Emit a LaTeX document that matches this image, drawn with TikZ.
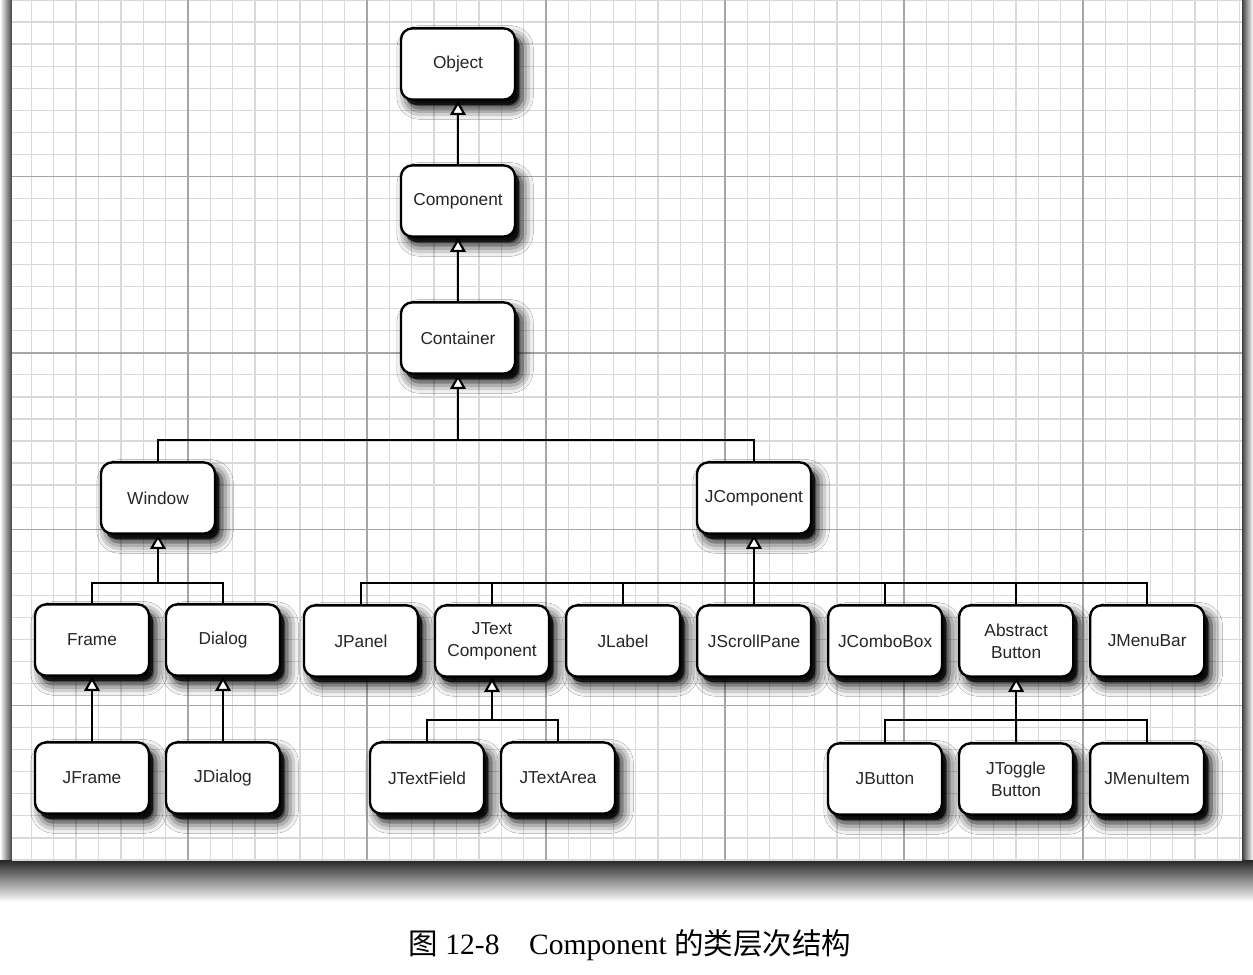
\documentclass[tikz,border=0pt]{standalone}
\usepackage{fontspec}
\setmainfont{Liberation Serif}
\setsansfont{Liberation Sans}
\newfontfamily\cjk{Noto Sans CJK SC}
\usetikzlibrary{arrows.meta,shadows,shadows.blur}

\tikzset{
  cls/.style={draw, line width=1.7pt, rounded corners=8pt, fill=white,
    minimum width=2.85cm, minimum height=1.78cm, inner sep=0pt,
    align=center, text=black!85,
    font=\sffamily\fontsize{12.3}{15.6}\selectfont,
    blur shadow={shadow xshift=5pt, shadow yshift=-6pt,
      shadow blur radius=8pt, shadow opacity=100},
    drop shadow={shadow xshift=3pt, shadow yshift=-4pt,
      fill=black, opacity=0.75}},
  link/.style={line width=1.5pt},
  inh/.style={link, -{Triangle[length=10pt, width=11pt, fill=white]}},
  minor/.style={gray!30, line width=0.9pt},
  major/.style={gray!70, line width=1pt},
}

\begin{document}
\begin{tikzpicture}[x=0.025cm, y=-0.025cm, node distance=3.275cm]
  \useasboundingbox (0,0) rectangle (1253,974);

  % Hoja cuadriculada
  \shade[left color=white, right color=black!75] (0,0) rectangle (12,860);
  \shade[left color=black!75, right color=white] (1242,0) rectangle (1253,870);
  \shade[top color=black!85, bottom color=white] (0,860) rectangle (1253,902);
  \fill[white] (12,0) rectangle (1242,860);
  \begin{scope}
    \clip (12,0) rectangle (1242,860);
    \foreach \i in {0,...,55}
      \draw[minor] ({9+22.375*\i},0) -- ({9+22.375*\i},860);
    \foreach \j in {0,...,39}
      \draw[minor] (12,{22.05*\j}) -- (1242,{22.05*\j});
    \foreach \i in {0,...,6}
      \draw[major] ({9+179*\i},0) -- ({9+179*\i},860);
    \foreach \j in {1,...,4}
      \draw[major] (12,{176.4*\j}) -- (1242,{176.4*\j});
  \end{scope}

  % Nodos
  \node[cls] (object) at (458,64) {Object};
  \node[cls] (component) at (458,201) {Component};
  \node[cls] (container) at (458,338) {Container};

  \node[cls] (window) at (158,498) {Window};
  \node[cls] (jcomponent) at (754,498) {JComponent};

  \node[cls] (frame) at (92,640) {Frame};
  \node[cls] (dialog) [right of=frame] {Dialog};
  \node[cls] (jpanel) at (361,641) {JPanel};
  \node[cls] (jtext) [right of=jpanel] {JText\\Component};
  \node[cls] (jlabel) [right of=jtext] {JLabel};
  \node[cls] (jscroll) [right of=jlabel] {JScrollPane};
  \node[cls] (jcombo) [right of=jscroll] {JComboBox};
  \node[cls] (abstract) [right of=jcombo] {Abstract\\Button};
  \node[cls] (jmenubar) [right of=abstract] {JMenuBar};

  \node[cls] (jframe) at (92,778) {JFrame};
  \node[cls] (jdialog) [right of=jframe] {JDialog};
  \node[cls] (jtextfield) at (427,778) {JTextField};
  \node[cls] (jtextarea) [right of=jtextfield] {JTextArea};
  \node[cls] (jbutton) at (885,779) {JButton};
  \node[cls] (jtoggle) [right of=jbutton] {JToggle\\Button};
  \node[cls] (jmenuitem) [right of=jtoggle] {JMenuItem};

  % Herencia
  \draw[inh] (component) -- (object);
  \draw[inh] (container) -- (component);

  \coordinate (b0) at (container |- 0,440);
  \draw[inh] (b0) -- (container);
  \draw[link] (window) |- (b0) -| (jcomponent);

  \coordinate (b1) at (window |- 0,583);
  \draw[inh] (b1) -- (window);
  \draw[link] (frame) |- (b1) -| (dialog);
  \draw[inh] (jframe) -- (frame);
  \draw[inh] (jdialog) -- (dialog);

  \coordinate (b2) at (jcomponent |- 0,583);
  \draw[inh] (b2) -- (jcomponent);
  \draw[link] (jpanel) |- (b2) -| (jmenubar);
  \foreach \n in {jtext,jlabel,jscroll,jcombo,abstract}
    \draw[link] (\n) -- (\n |- b2);

  \coordinate (b3) at (jtext |- 0,720);
  \draw[inh] (b3) -- (jtext);
  \draw[link] (jtextfield) |- (b3) -| (jtextarea);

  \coordinate (b4) at (abstract |- 0,720);
  \draw[inh] (b4) -- (abstract);
  \draw[link] (jbutton) |- (b4) -| (jmenuitem);
  \draw[link] (jtoggle) -- (b4);

  % Pie
  \node[font=\fontsize{21}{25}\selectfont] (caption) at (630,945)
    {{\cjk 图} 12-8\quad Component {\cjk 的类层次结构}};
\end{tikzpicture}
\end{document}
